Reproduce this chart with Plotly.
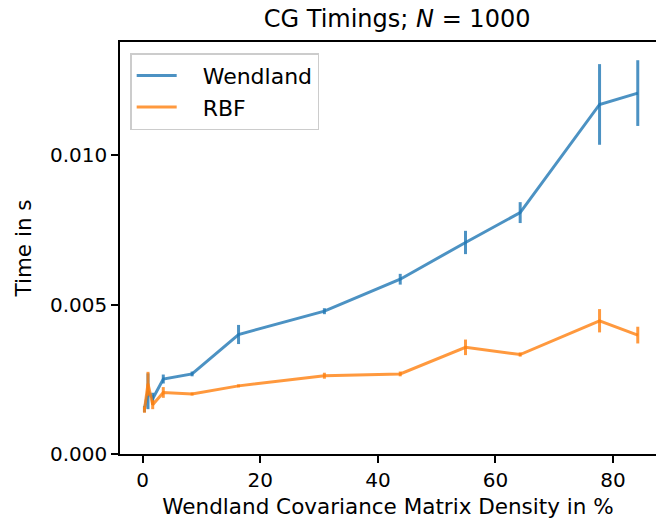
import plotly.graph_objects as go

density = [0.3, 0.9, 1.7, 3.5, 8.4, 16.3, 30.9, 43.8, 54.9, 64.2, 77.7, 84.2]
wendland_time = [0.00150, 0.00210, 0.00185, 0.00251, 0.00268, 0.00400, 0.00478, 0.00585, 0.00708, 0.00808, 0.01170, 0.01208]
wendland_err = [0.00010, 0.00060, 0.00020, 0.00015, 0.00008, 0.00032, 0.00010, 0.00018, 0.00039, 0.00035, 0.00135, 0.00110]
rbf_time = [0.00148, 0.00235, 0.00165, 0.00206, 0.00201, 0.00228, 0.00262, 0.00268, 0.00357, 0.00333, 0.00446, 0.00398]
rbf_err = [0.00010, 0.00040, 0.00015, 0.00018, 0.00005, 0.00005, 0.00010, 0.00008, 0.00026, 0.00007, 0.00039, 0.00028]

blue = "rgba(31,119,180,0.8)"
orange = "rgba(255,127,14,0.8)"
FONT = "DejaVu Sans"
PAD = "\u00a0\u00a0\u00a0"

fig = go.Figure()
fig.add_trace(go.Scatter(
    x=density, y=wendland_time, mode="lines", name=PAD + "Wendland",
    line=dict(color=blue, width=3),
    error_y=dict(type="data", array=wendland_err, visible=True, color=blue, thickness=3, width=0),
))
fig.add_trace(go.Scatter(
    x=density, y=rbf_time, mode="lines", name=PAD + "RBF",
    line=dict(color=orange, width=3),
    error_y=dict(type="data", array=rbf_err, visible=True, color=orange, thickness=3, width=0),
))

fig.update_layout(
    width=656, height=522,
    margin=dict(l=120, r=0, t=42, b=68),
    paper_bgcolor="white", plot_bgcolor="white",
    font=dict(family=FONT, size=20, color="black"),
    title=dict(text="CG Timings; <i>N</i> = 1000", x=0.517, xref="paper", xanchor="center",
               y=0.965, yref="container", yanchor="middle", font=dict(family=FONT, size=24)),
    showlegend=True,
    legend=dict(x=0.019, y=0.973, xanchor="left", yanchor="top",
                bgcolor="rgba(255,255,255,0.8)", bordercolor="#cccccc", borderwidth=1.5,
                font=dict(family=FONT, size=22), itemwidth=40, tracegroupgap=0),
)
fig.update_xaxes(
    range=[-3.86, 87.3], showgrid=False, zeroline=False,
    showline=True, linecolor="black", linewidth=1.5, mirror=True,
    ticks="outside", ticklen=7, tickwidth=1.5, tickcolor="black",
    tickvals=[0, 20, 40, 60, 80],
    title=dict(text="Wendland Covariance Matrix Density in %", standoff=8,
               font=dict(family=FONT, size=21.5)),
)
fig.update_yaxes(
    range=[0, 0.01379], showgrid=False, zeroline=False,
    showline=True, linecolor="black", linewidth=1.5,
    ticks="outside", ticklen=7, tickwidth=1.5, tickcolor="black",
    tickvals=[0, 0.005, 0.010], ticktext=["0.000", "0.005", "0.010"],
    title=dict(text="Time in s", standoff=12, font=dict(family=FONT, size=21.5)),
)

fig.write_html("out.html")
